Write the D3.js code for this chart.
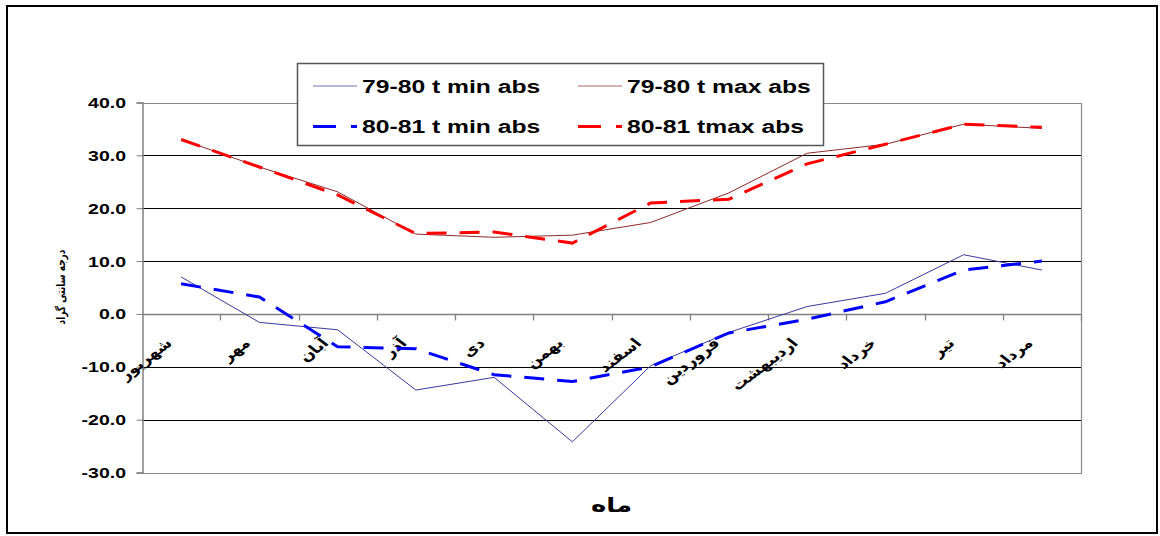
<!DOCTYPE html>
<html><head><meta charset="utf-8">
<script src="https://cdn.jsdelivr.net/npm/d3@7"></script>
<style>
html,body{margin:0;padding:0;background:#fff;}
svg{display:block;}
</style></head>
<body>
<svg id="chart" width="1160" height="536"></svg>
<script>
const months = ["شهریور","مهر","آبان","آذر","دی","بهمن","اسفند","فروردین","اردیبهشت","خرداد","تیر","مرداد"];
const tmin7980 = [7.0, -1.6, -3.0, -14.4, -12.0, -24.2, -9.8, -3.5, 1.4, 3.9, 11.2, 8.3];
const tmax7980 = [33.0, 27.8, 23.1, 15.1, 14.5, 14.9, 17.3, 22.9, 30.4, 32.1, 35.9, 35.1];
const tmin8081 = [5.7, 3.2, -6.2, -6.6, -11.5, -12.8, -10.0, -3.6, -1.0, 2.3, 8.3, 10.0];
const tmax8081 = [33.0, 27.8, 22.5, 15.2, 15.5, 13.4, 21.0, 21.7, 28.4, 32.1, 35.9, 35.3];
const yTicks = [40, 30, 20, 10, 0, -10, -20, -30];
const seriesNames = ["79-80 t min abs", "79-80 t max abs", "80-81 t min abs", "80-81 tmax abs"];
const yTitle = "درجه سانتی گراد";
const xTitle = "ماه";

const SX = 1.3; // horizontal stretch of text in the reference
const fmt = d3.formatLocale({decimal: ".", thousands: ",", grouping: [3], currency: ["", ""], minus: "-"}).format(".1f");
const svg = d3.select("#chart");
const L = 142, R = 1081, T = 102.5, B = 472.5;

svg.append("rect").attr("x", 7).attr("y", 6).attr("width", 1150).attr("height", 527)
  .attr("fill", "#fff").attr("stroke", "#000").attr("stroke-width", 2);

const x = d3.scaleBand().domain(months).range([L, R]).padding(0);
const y = d3.scaleLinear().domain([-30, 40]).range([B, T]);
const cx = d => x(d) + x.bandwidth() / 2;

// gridlines
svg.append("g").selectAll("line").data(yTicks.filter(v => v !== 40 && v !== -30 && v !== 0))
  .join("line").attr("x1", L).attr("x2", R)
  .attr("y1", d => Math.round(y(d)) + 0.5).attr("y2", d => Math.round(y(d)) + 0.5)
  .attr("stroke", "#000").attr("stroke-width", 1);

// plot frame (top, right, bottom)
svg.append("path")
  .attr("d", `M${L},${Math.round(T)+0.5}H${Math.round(R)+0.5}V${Math.round(B)+0.5}H${L}`)
  .attr("fill", "none").attr("stroke", "#8a8a8a").attr("stroke-width", 1.2);

// y axis
const yAxis = d3.axisLeft(y).tickValues(yTicks).tickSize(6).tickFormat(fmt);
const gy = svg.append("g").attr("transform", `translate(${L + 0.5},0)`).call(yAxis);
gy.select(".domain").attr("stroke", "#808080").attr("stroke-width", 1.5);
gy.selectAll(".tick line").attr("stroke", "#808080");
gy.selectAll(".tick text").remove();
svg.append("g").selectAll("text").data(yTicks).join("text")
  .attr("transform", d => `translate(126,${y(d) + 5.5}) scale(${SX},1)`)
  .attr("text-anchor", "end")
  .attr("font-family", "Liberation Sans, Arial, sans-serif")
  .attr("font-weight", "bold").attr("font-size", 15).attr("fill", "#000")
  .text(d => fmt(d));

// x axis at zero
const zeroY = Math.round(y(0)) + 0.5;
svg.append("line").attr("x1", L).attr("x2", R).attr("y1", zeroY).attr("y2", zeroY)
  .attr("stroke", "#808080").attr("stroke-width", 1.3);
const boundaries = months.map(m => x(m)).concat([R]);
svg.append("g").selectAll("line").data(boundaries.slice(1)).join("line")
  .attr("x1", d => Math.round(d) + 0.5).attr("x2", d => Math.round(d) + 0.5)
  .attr("y1", zeroY).attr("y2", zeroY + 6)
  .attr("stroke", "#808080").attr("stroke-width", 1.3);

// category labels
svg.append("g").selectAll("text").data(months).join("text")
  .attr("transform", d => `translate(${cx(d) - 8},${344}) scale(${SX},1) rotate(-45)`)
  .attr("text-anchor", "end")
  .attr("font-family", "DejaVu Sans, sans-serif")
  .attr("font-weight", "bold").attr("font-size", 13.5).attr("fill", "#000")
  .text(d => d);

// lines
const line = d3.line().x((d, i) => cx(months[i])).y(d => y(d));
const series = [
  {data: tmin7980, color: "#3a3a9c", w: 1, dash: null},
  {data: tmax7980, color: "#8c2a2a", w: 1, dash: null},
  {data: tmin8081, color: "#0000ff", w: 3, dash: "20,13"},
  {data: tmax8081, color: "#ff0000", w: 3, dash: "20,13"}
];
svg.append("g").selectAll("path").data(series).join("path")
  .attr("d", d => line(d.data))
  .attr("fill", "none").attr("stroke", d => d.color).attr("stroke-width", d => d.w)
  .attr("stroke-dasharray", d => d.dash);

// legend
const lg = svg.append("g");
lg.append("rect").attr("x", 297.5).attr("y", 63.5).attr("width", 526).attr("height", 82)
  .attr("fill", "#fff").attr("stroke", "#555").attr("stroke-width", 1.5);
const legendPos = [
  {lx: 313, tx: 362, y: 86},
  {lx: 578, tx: 627, y: 86},
  {lx: 313, tx: 362, y: 126.5},
  {lx: 578, tx: 627, y: 126.5}
];
series.forEach((s, i) => {
  const p = legendPos[i];
  lg.append("line").attr("x1", p.lx).attr("x2", p.lx + 44).attr("y1", p.y).attr("y2", p.y)
    .attr("stroke", s.color).attr("stroke-width", s.w === 1 ? 1.2 : 3)
    .attr("stroke-opacity", s.w === 1 ? 0.7 : 1)
    .attr("stroke-dasharray", s.dash ? "23,15,6,100" : null);
  lg.append("text").attr("transform", `translate(${p.tx},${p.y + 6.5}) scale(${SX},1)`)
    .attr("font-family", "Liberation Sans, Arial, sans-serif")
    .attr("font-weight", "bold").attr("font-size", 19).attr("fill", "#000")
    .text(seriesNames[i]);
});

// axis titles
svg.append("text").attr("transform", `translate(65,287) scale(${SX},1) rotate(-90)`)
  .attr("text-anchor", "middle")
  .attr("font-family", "DejaVu Sans, sans-serif")
  .attr("font-weight", "bold").attr("font-size", 9).attr("fill", "#000")
  .text(yTitle);
svg.append("text").attr("transform", `translate(${(L + R) / 2},512) scale(${SX},1)`)
  .attr("text-anchor", "middle")
  .attr("font-family", "DejaVu Sans, sans-serif")
  .attr("font-weight", "bold").attr("font-size", 20).attr("fill", "#000")
  .text(xTitle);
</script>
</body></html>
